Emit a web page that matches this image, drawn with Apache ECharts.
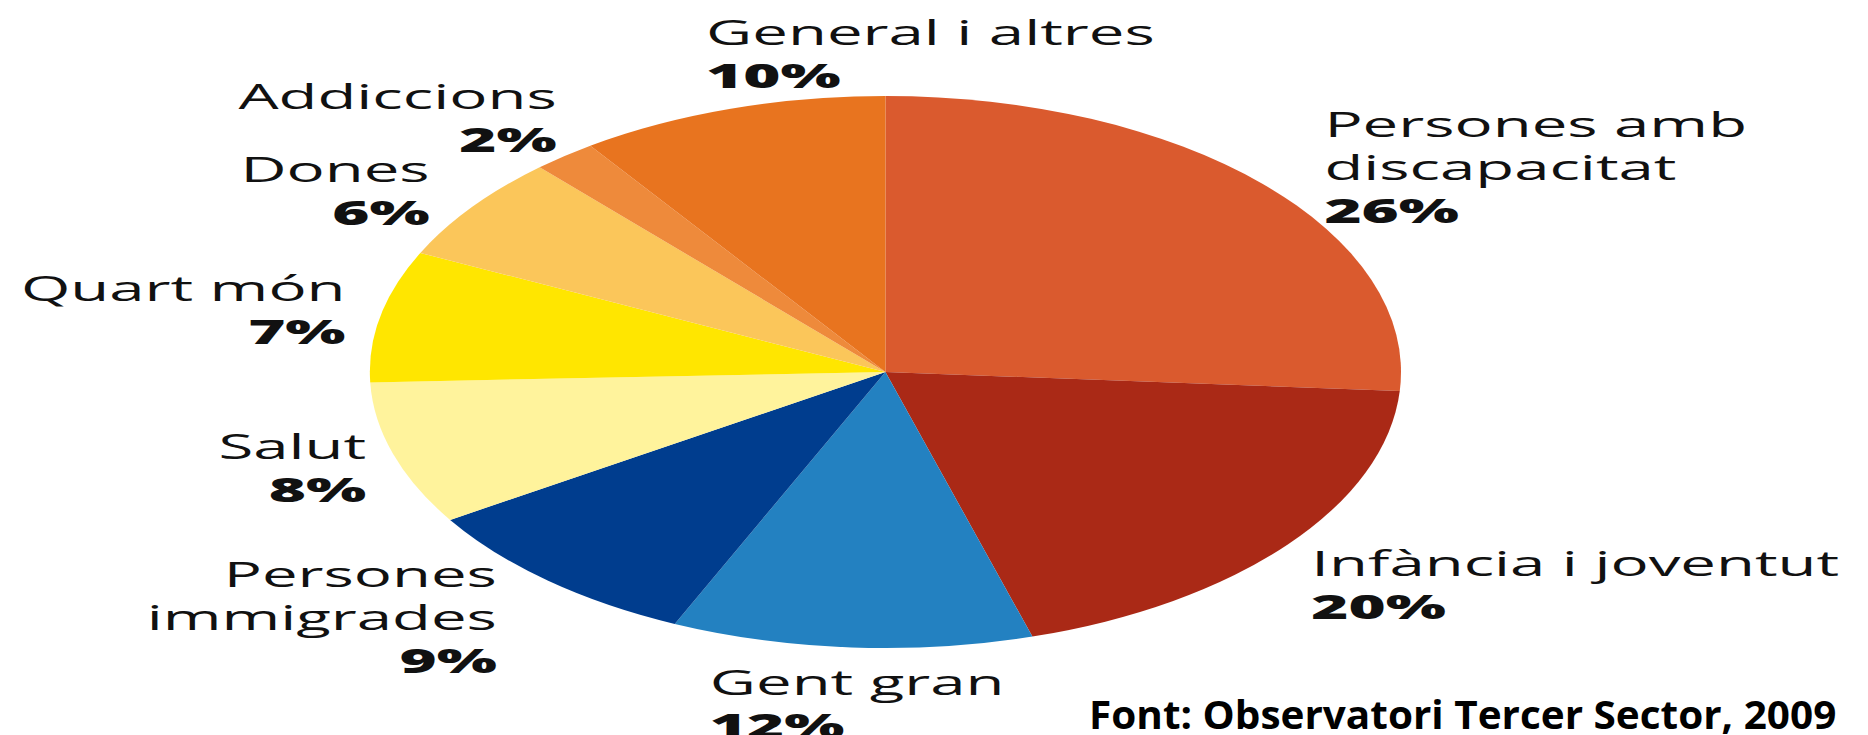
<!DOCTYPE html>
<html>
<head>
<meta charset="utf-8">
<script src="https://cdn.jsdelivr.net/npm/echarts@6/dist/echarts.min.js"></script>
<style>
  html, body { margin: 0; padding: 0; background: #fff; overflow: hidden; }
  #wrap { width: 1868px; height: 735px; overflow: hidden; }
  /* the original picture is stretched sideways, so draw a round pie and stretch the chart */
  #chart { width: 1000px; height: 735px; transform: scaleX(1.868); transform-origin: 0 0; }
</style>
</head>
<body>
<div id="wrap"><div id="chart"></div></div>
<script>
const categories = [
  'Persones amb\ndiscapacitat',
  'Infància i joventut',
  'Gent gran',
  'Persones\nimmigrades',
  'Salut',
  'Quart món',
  'Dones',
  'Addiccions',
  'General i altres'
]
// percentages printed on the chart
const printedShares = [26, 20, 12, 9, 8, 7, 6, 2, 10]
// slice sizes as actually drawn in the picture
const drawnShares = [26.1, 19.3, 11.3, 9.3, 8.4, 7.7, 6.2, 2.0, 9.7]
const sliceColors = ['#da5a2e', '#aa2916', '#2381c1', '#003d8e', '#fff39c', '#ffe600', '#fbc65a', '#ee8a3b', '#e8741f']
const sourceNote = 'Font: Observatori Tercer Sector, 2009'

// where each label sits in the unstretched chart: x, middle y, text align
const labelSpots = [
  [709, 167, 'left'],
  [702, 584, 'left'],
  [380, 703, 'left'],
  [266, 617, 'right'],
  [196, 467, 'right'],
  [185, 309, 'right'],
  [230, 190, 'right'],
  [298, 117, 'right'],
  [378, 53, 'left']
]

const chart = echarts.init(document.getElementById('chart'), null, { renderer: 'svg' })

const option = {
  animation: false,
  graphic: [{
    type: 'text',
    x: 583,
    y: 714,
    scaleX: 0.542,
    style: {
      text: sourceNote,
      font: 'bold 40px "Open Sans"',
      fill: '#000',
      align: 'left',
      verticalAlign: 'middle'
    }
  }],
  series: [{
    type: 'pie',
    center: [474, 372],
    radius: 276,
    startAngle: 90,
    clockwise: true,
    avoidLabelOverlap: false,
    itemStyle: { borderWidth: 0 },
    labelLine: { show: false },
    label: {
      show: true,
      position: 'outside',
      formatter: p => p.name.split('\n').map(l => '{n|' + l + '}').join('\n') +
        '\n{p|' + printedShares[p.dataIndex] + '%}',
      rich: {
        n: { fontFamily: '"Open Sans"', fontSize: 34, color: '#111', lineHeight: 43 },
        p: { fontFamily: '"Open Sans"', fontSize: 34, fontWeight: 800, color: '#111', lineHeight: 43 }
      }
    },
    labelLayout: params => {
      const s = labelSpots[params.dataIndex]
      return { x: s[0], y: s[1], align: s[2], verticalAlign: 'middle', hideOverlap: false }
    },
    data: categories.map((c, i) => ({
      name: c,
      value: drawnShares[i],
      itemStyle: { color: sliceColors[i] }
    }))
  }]
}

chart.setOption(option)
</script>
</body>
</html>
